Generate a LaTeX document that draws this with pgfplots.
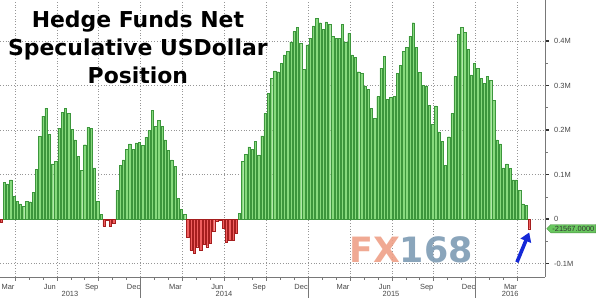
\documentclass[border=0pt]{standalone}
\usepackage{pgfplots}
\pgfplotsset{compat=1.18}
\usepackage{pgfplotstable}
\usepackage{fontspec}
\setmainfont{Liberation Sans}
\newfontfamily\titlefont{DejaVu Sans}
\usetikzlibrary{arrows.meta,shapes.symbols}
\definecolor{barG}{RGB}{135,218,125}
\definecolor{barGd}{RGB}{60,150,60}
\definecolor{barR}{RGB}{240,95,95}
\definecolor{barRd}{RGB}{165,30,30}
\definecolor{gridc}{RGB}{150,150,150}
\definecolor{axc}{RGB}{120,120,120}
\definecolor{tlab}{RGB}{70,70,70}
\definecolor{fxa}{RGB}{238,160,135}
\definecolor{fxb}{RGB}{125,155,180}
\definecolor{arrowc}{RGB}{20,40,215}
\definecolor{boxg}{RGB}{105,200,95}

\pgfplotstableread{
x y
1 -0.008
2 0.082
3 0.079
4 0.088
5 0.051
6 0.040
7 0.034
8 0.028
9 0.040
10 0.039
11 0.060
12 0.111
13 0.186
14 0.231
15 0.249
16 0.190
17 0.124
18 0.130
19 0.204
20 0.240
21 0.249
22 0.237
23 0.201
24 0.178
25 0.141
26 0.109
27 0.167
28 0.206
29 0.204
30 0.115
31 0.040
32 0.010
33 -0.016
34 -0.002
35 -0.016
36 -0.010
37 0.064
38 0.120
39 0.133
40 0.157
41 0.169
42 0.157
43 0.171
44 0.172
45 0.166
46 0.184
47 0.199
48 0.244
49 0.208
50 0.222
51 0.208
52 0.178
53 0.154
54 0.133
55 0.118
56 0.047
57 0.022
58 0.010
59 -0.040
60 -0.070
61 -0.077
62 -0.062
63 -0.070
64 -0.057
65 -0.062
66 -0.055
67 -0.028
68 -0.004
69 -0.002
70 -0.021
71 -0.051
72 -0.047
73 -0.047
74 -0.032
75 0.013
76 0.130
77 0.145
78 0.162
79 0.156
80 0.175
81 0.144
82 0.187
83 0.237
84 0.282
85 0.316
86 0.333
87 0.331
88 0.350
89 0.369
90 0.376
91 0.398
92 0.421
93 0.431
94 0.395
95 0.336
96 0.391
97 0.406
98 0.434
99 0.451
100 0.441
101 0.426
102 0.443
103 0.438
104 0.410
105 0.406
106 0.406
107 0.438
108 0.398
109 0.417
110 0.369
111 0.363
112 0.331
113 0.327
114 0.299
115 0.291
116 0.249
117 0.226
118 0.275
119 0.339
120 0.365
121 0.269
122 0.273
123 0.276
124 0.327
125 0.345
126 0.376
127 0.386
128 0.411
129 0.441
130 0.385
131 0.329
132 0.301
133 0.299
134 0.256
135 0.213
136 0.254
137 0.196
138 0.175
139 0.121
140 0.185
141 0.237
142 0.320
143 0.416
144 0.431
145 0.419
146 0.381
147 0.324
148 0.350
149 0.339
150 0.316
151 0.305
152 0.320
153 0.312
154 0.267
155 0.178
156 0.169
157 0.115
158 0.124
159 0.114
160 0.088
161 0.088
162 0.065
163 0.034
164 0.031
165 -0.0216
}\data

\begin{document}
\begin{tikzpicture}
\begin{axis}[
  scale only axis, width=545bp, height=277bp,
  xmin=0.69, xmax=169.9, ymin=-0.130, ymax=0.492,
  axis x line*=bottom, axis y line*=right,
  axis line style={axc, line width=0.8bp},
  xtick={5.35,18.35,...,161.35},
  xticklabels={Mar,Jun,Sep,Dec,Mar,Jun,Sep,Dec,Mar,Jun,Sep,Dec,Mar},
  minor x tick num=2,
  ytick={-0.1,0,0.1,0.2,0.3,0.4},
  yticklabels={-0.1M,0,0.1M,0.2M,0.3M,0.4M},
  minor y tick num=1,
  xmajorgrids, ymajorgrids,
  major grid style={gridc, dash pattern=on 0.8bp off 2bp, line width=0.6bp},
  tick style={axc, line width=0.6bp},
  major y tick style={black!80, line width=1.3bp},
  major tick length=3.5bp, minor tick length=2.5bp,
  tick align=outside,
  xticklabel style={font=\fontsize{7.5}{8}\selectfont, text=tlab, anchor=base, yshift=-9bp, xshift=-7bp, inner sep=0pt},
  yticklabel style={font=\fontsize{7.5}{8}\selectfont, text=tlab, anchor=west, xshift=5.5bp, inner sep=0pt},
  ybar, bar width=0.72,
  clip=false,
]
\addplot[bar shift=0pt, fill=barG, draw=barGd, line width=0.35bp, restrict y to domain=0:1] table[x=x,y=y]{\data};
\addplot[bar shift=0pt, fill=barR, draw=barRd, line width=0.35bp, restrict y to domain=-1:0] table[x=x,y=y]{\data};

\coordinate (bl) at (rel axis cs:0,0);
\coordinate (tr) at (rel axis cs:1,1);

% year separators
\draw[axc, line width=0.6bp] (axis cs:44.35,-0.130) -- ([yshift=-21bp]axis cs:44.35,-0.130);
\draw[axc, line width=0.6bp] (axis cs:96.35,-0.130) -- ([yshift=-21bp]axis cs:96.35,-0.130);
\draw[axc, line width=0.6bp] (axis cs:148.35,-0.130) -- ([yshift=-21bp]axis cs:148.35,-0.130);
% year labels
\node[font=\fontsize{7.5}{8}\selectfont, text=tlab, anchor=base, inner sep=0pt] at ([yshift=-19bp]axis cs:22.4,-0.130) {2013};
\node[font=\fontsize{7.5}{8}\selectfont, text=tlab, anchor=base, inner sep=0pt] at ([yshift=-19bp]axis cs:70.25,-0.130) {2014};
\node[font=\fontsize{7.5}{8}\selectfont, text=tlab, anchor=base, inner sep=0pt] at ([yshift=-19bp]axis cs:122.1,-0.130) {2015};
\node[font=\fontsize{7.5}{8}\selectfont, text=tlab, anchor=base, inner sep=0pt] at ([yshift=-19bp]axis cs:159.1,-0.130) {2016};

% watermark
\node[font=\titlefont\bfseries\fontsize{35}{35}\selectfont, inner sep=0pt, opacity=0.9] at (axis cs:128.3,-0.0697) {\textcolor{fxa}{FX}\textcolor{fxb}{168}};

% last value box
\node[signal, signal to=west, signal from=nowhere, fill=boxg, draw=boxg!70!black, line width=0.3bp, font=\fontsize{7.5}{8}\selectfont, text=black!80, inner sep=1.5bp, anchor=west] at ([xshift=1.5bp]axis cs:169.9,-0.0216) {-21567.0000};

% arrow
\draw[arrowc, line width=3.6bp, -{Triangle[length=9bp,width=11bp]}] (axis cs:161.2,-0.0966) -- (axis cs:165.0,-0.030);

% title
\node[anchor=north, inner sep=0pt, align=center, font=\titlefont\bfseries\fontsize{22}{28}\selectfont] at (axis cs:43.5,0.4683) {Hedge Funds Net\\Speculative USDollar\\Position};
\end{axis}
\pgfresetboundingbox
\path ([yshift=-21bp]bl) rectangle ([xshift=55bp]tr);
\end{tikzpicture}
\end{document}
